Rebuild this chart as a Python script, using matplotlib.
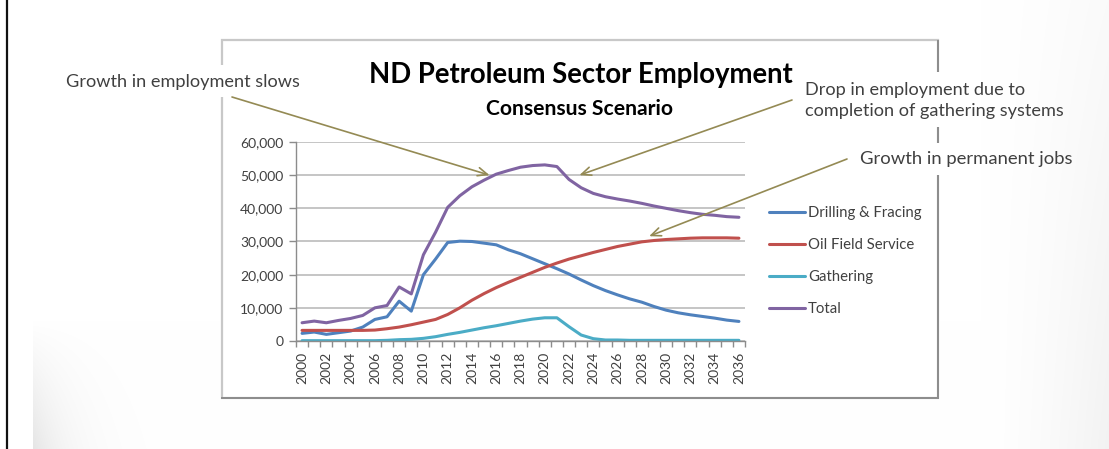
import numpy as np
import matplotlib
matplotlib.use('Agg')
import matplotlib.pyplot as plt
from matplotlib.lines import Line2D
from matplotlib.patches import Rectangle

# ---------------- data ----------------
years = list(range(2000, 2037))
drilling = [2300, 2700, 2000, 2500, 3000, 4200, 6500, 7300, 12000, 9000,
            20000, 24700, 29700, 30100, 30000, 29500, 29000, 27500, 26300, 24800,
            23300, 21800, 20200, 18400, 16700, 15200, 13900, 12700, 11700, 10400,
            9300, 8500, 7900, 7400, 6900, 6300, 5900]
oil_field = [3200, 3200, 3200, 3200, 3200, 3200, 3300, 3700, 4200, 4900,
             5700, 6500, 8000, 10000, 12300, 14300, 16100, 17700, 19200, 20700,
             22200, 23500, 24700, 25700, 26700, 27600, 28500, 29200, 29900, 30300,
             30600, 30800, 31000, 31100, 31100, 31100, 31000]
gathering = [100, 100, 100, 100, 100, 100, 100, 200, 400, 500,
             800, 1300, 2000, 2600, 3300, 4000, 4600, 5300, 6000, 6600,
             7000, 7000, 4300, 1800, 700, 300, 300, 200, 200, 200,
             200, 200, 200, 200, 200, 200, 200]
total = [5500, 6000, 5500, 6200, 6800, 7700, 10000, 10700, 16300, 14200,
         26000, 32800, 40300, 43800, 46500, 48500, 50300, 51400, 52400, 52900,
         53100, 52600, 48700, 46200, 44500, 43500, 42800, 42200, 41500, 40700,
         40000, 39300, 38700, 38200, 37900, 37500, 37300]
series_names = ['Drilling & Fracing', 'Oil Field Service', 'Gathering', 'Total']
series_colors = ['#4F81BD', '#C0504D', '#4BACC6', '#8064A2']
y_ticks = [0, 10000, 20000, 30000, 40000, 50000, 60000]
title = 'ND Petroleum Sector Employment'
subtitle = 'Consensus Scenario'
notes = ['Growth in employment slows',
         'Drop in employment due to\ncompletion of gathering systems',
         'Growth in permanent jobs']
# annotation targets (year, value)
note_targets = [(2015.45, 50000), (2022.85, 50000), (2028.6, 31600)]

# ---------------- figure ----------------
W, H = 1109, 449
FONT = 'Lato'
TXT = '#404040'
fig = plt.figure(figsize=(W / 100, H / 100), dpi=100)
fig.patch.set_facecolor('white')

def fx(px):
    return px / W

def fy(py):
    return 1 - py / H

# background vignette
bg = fig.add_axes([0, 0, 1, 1], zorder=-10)
bg.axis('off')
yy, xx = np.mgrid[0:H, 0:W].astype(float)
left = np.where(xx >= 33, np.exp(-(xx - 33) / 35.0), 0) * np.clip((yy - 320) / 129, 0, 1)
right = np.clip((xx - 980) / 129, 0, 1) ** 1.5 * (0.4 + 0.6 * yy / H)
val = 1 - 0.10 * left - 0.05 * right
img = np.dstack([val, val, val])
bg.imshow(img, extent=[0, 1, 0, 1], aspect='auto', interpolation='bilinear')
bg.set_xlim(0, 1); bg.set_ylim(0, 1)

# left black border line
fig.add_artist(Line2D([fx(7), fx(7)], [0, 1], color='#111111', lw=1.6, zorder=-1))

# chart frame
fig.add_artist(Rectangle((fx(222), fy(398)), fx(938) - fx(222), fy(40) - fy(398),
                         facecolor='white', edgecolor='#c8c8c8', lw=1.6, zorder=-1))
fig.add_artist(Line2D([fx(938), fx(938)], [fy(398), fy(41)], color='#8c8c8c', lw=1.4, zorder=-1))
fig.add_artist(Line2D([fx(222), fx(938)], [fy(398), fy(398)], color='#8c8c8c', lw=1.4, zorder=-1))

# white gaps in the frame behind annotation texts
for (x0, y0, x1, y1) in [(214, 65, 231, 97), (930, 72, 946, 127), (930, 143, 946, 175)]:
    fig.add_artist(Rectangle((fx(x0), fy(y1)), fx(x1) - fx(x0), fy(y0) - fy(y1),
                             facecolor='white', edgecolor='none', zorder=1))

# plot area
ax = fig.add_axes([fx(296), fy(341), fx(745) - fx(296), fy(142) - fy(341)])
ax.set_zorder(2)
ax.patch.set_visible(False)
x = np.arange(len(years))
handles = []
for vals, name, col in zip([drilling, oil_field, gathering, total], series_names, series_colors):
    h, = ax.plot(x, vals, color=col, lw=2.2, solid_joinstyle='round', solid_capstyle='round', label=name)
    handles.append(h)
ax.set_xlim(-0.5, len(years) - 0.5)
ax.set_ylim(0, 60000)
ax.set_yticks(y_ticks)
ax.set_yticklabels([f'{v:,}' for v in y_ticks], fontfamily=FONT, fontsize=10, color=TXT)
ax.set_xticks(x[::2])
ax.set_xticklabels([str(y) for y in years[::2]], rotation=90, fontfamily=FONT, fontsize=10, color=TXT)
ax.set_xticks(np.arange(-0.5, len(years), 1), minor=True)
ax.tick_params(axis='x', which='major', length=0, pad=8)
ax.tick_params(axis='x', which='minor', length=4, color='#8c8c8c', width=1)
ax.tick_params(axis='y', which='major', length=5, color='#8c8c8c', width=1, pad=4)
ax.yaxis.grid(True, color='#c0c0c0', lw=1.3)
ax.set_axisbelow(True)
for s in ['top', 'right']:
    ax.spines[s].set_visible(False)
for s in ['left', 'bottom']:
    ax.spines[s].set_color('#8c8c8c')
    ax.spines[s].set_linewidth(1.0)

# legend
leg = fig.legend(handles, series_names, loc='center left', bbox_to_anchor=(fx(756), fy(261)),
                 frameon=False, handlelength=2.4, handletextpad=0.2, labelspacing=1.2,
                 prop={'family': FONT, 'size': 10.7}, labelcolor=TXT)
leg.set_zorder(3)

# titles
fig.text(fx(581), fy(83), title, ha='center', va='baseline', fontsize=19.8,
         fontweight='bold', family=FONT, color='black', zorder=3)
fig.text(fx(580), fy(115), subtitle, ha='center', va='baseline', fontsize=15.2,
         fontweight='bold', family=FONT, color='black', zorder=3)

# annotation texts
fig.text(fx(66), fy(87), notes[0], ha='left', va='baseline', fontsize=13.1,
         family=FONT, color=TXT, zorder=3)
fig.text(fx(805), fy(116), notes[1], ha='left', va='baseline', fontsize=13.1,
         family=FONT, color=TXT, zorder=3, linespacing=1.4)
fig.text(fx(860), fy(164), notes[2], ha='left', va='baseline', fontsize=13.3,
         family=FONT, color=TXT, zorder=3)

# arrows
tails = [(232, 97), (792, 100), (847, 159)]
for (tx, ty), (yr, v) in zip(tails, note_targets):
    ax.annotate('', xy=(yr - years[0], v), xycoords='data',
                xytext=(tx, H - ty), textcoords='figure pixels',
                arrowprops=dict(arrowstyle='->,head_length=0.7,head_width=0.3',
                                color='#948A54', lw=1.2, shrinkA=0, shrinkB=0),
                annotation_clip=False)

fig.savefig('out.png', dpi=100)
